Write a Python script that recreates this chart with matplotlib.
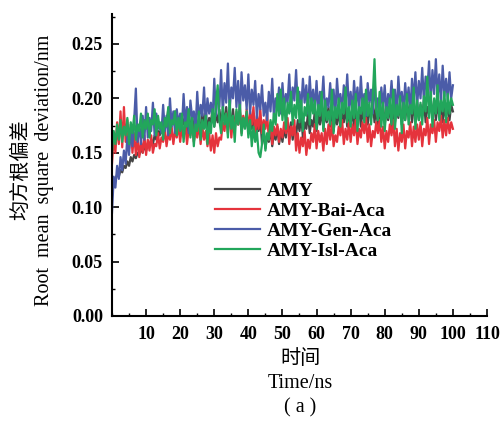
import numpy as np
import matplotlib
matplotlib.use("Agg")
import matplotlib.pyplot as plt
from matplotlib.ticker import MultipleLocator, FormatStrFormatter

plt.rcParams['font.family'] = ['Liberation Serif', 'DejaVu Serif']

# time axis, 0.5 ns steps
time_ns = np.arange(0, 100.5, 0.5)

# RMSD values, in units of 1e-3 nm
amy = [
    110, 122, 126, 130, 128, 134, 132, 138, 136, 142, 138, 146, 142, 148, 145, 150, 148, 154, 150, 156,
    152, 158, 156, 162, 158, 166, 162, 170, 166, 176, 170, 182, 176, 190, 172, 184, 178, 188, 174, 182,
    172, 182, 176, 186, 170, 180, 174, 184, 172, 182, 168, 178, 174, 186, 176, 188, 170, 182, 178, 190,
    174, 186, 178, 190, 176, 188, 180, 192, 174, 186, 178, 190, 172, 184, 176, 188, 170, 182, 174, 186,
    168, 180, 172, 184, 166, 178, 170, 182, 158, 170, 154, 166, 160, 172, 156, 168, 162, 174, 158, 170,
    160, 172, 164, 176, 168, 178, 162, 174, 166, 180, 170, 184, 164, 178, 172, 186, 168, 180, 174, 188,
    170, 184, 176, 190, 172, 186, 178, 192, 174, 188, 170, 184, 176, 190, 172, 186, 178, 192, 174, 188,
    176, 190, 172, 186, 178, 192, 174, 188, 180, 196, 176, 190, 182, 198, 178, 192, 174, 188, 180, 194,
    176, 190, 180, 194, 174, 188, 178, 192, 182, 196, 176, 190, 180, 194, 184, 198, 178, 192, 182, 196,
    180, 194, 184, 198, 178, 192, 186, 200, 182, 196, 180, 194, 184, 198, 178, 192, 182, 196, 180, 194,
    188]

bai = [
    140, 165, 150, 178, 158, 188, 155, 192, 160, 180, 154, 176, 150, 168, 148, 164, 146, 160, 150, 166,
    148, 162, 152, 166, 150, 158, 156, 168, 154, 164, 160, 172, 156, 168, 162, 174, 158, 170, 164, 176,
    160, 174, 164, 178, 158, 172, 166, 176, 160, 170, 164, 178, 158, 174, 162, 170, 156, 168, 152, 166,
    150, 168, 156, 164, 162, 178, 170, 186, 168, 190, 164, 182, 172, 188, 176, 192, 168, 184, 174, 190,
    170, 188, 176, 192, 166, 184, 172, 190, 168, 180, 172, 186, 162, 178, 158, 174, 166, 176, 160, 172,
    164, 178, 168, 182, 158, 174, 166, 180, 152, 168, 150, 164, 156, 170, 148, 162, 154, 168, 160, 176,
    154, 170, 160, 168, 152, 172, 158, 176, 162, 178, 156, 166, 160, 174, 166, 180, 158, 172, 162, 178,
    160, 176, 166, 180, 158, 172, 164, 178, 168, 182, 160, 176, 156, 170, 164, 178, 168, 180, 160, 174,
    154, 170, 160, 176, 166, 180, 156, 172, 152, 168, 160, 176, 154, 170, 164, 178, 156, 174, 160, 176,
    162, 178, 156, 172, 166, 182, 158, 176, 168, 180, 160, 178, 170, 184, 164, 180, 166, 182, 168, 178,
    172]

gen = [
    95, 128, 118, 138, 126, 146, 134, 152, 140, 165, 148, 172, 156, 180, 209, 160, 176, 158, 184, 162,
    192, 164, 182, 170, 196, 166, 186, 172, 178, 168, 194, 170, 184, 166, 200, 174, 188, 168, 190, 176,
    186, 172, 204, 176, 192, 168, 198, 182, 188, 170, 206, 178, 194, 184, 210, 176, 200, 186, 196, 180,
    218, 184, 206, 192, 226, 186, 214, 196, 232, 188, 210, 200, 228, 192, 216, 184, 224, 198, 212, 190,
    222, 186, 208, 194, 216, 182, 204, 190, 212, 184, 196, 180, 206, 188, 218, 182, 200, 192, 210, 186,
    214, 190, 204, 196, 222, 188, 210, 198, 226, 192, 206, 190, 218, 196, 212, 186, 220, 194, 208, 190,
    216, 188, 206, 194, 220, 186, 200, 192, 214, 190, 208, 184, 218, 196, 204, 188, 212, 194, 222, 190,
    206, 186, 216, 194, 210, 188, 220, 192, 204, 184, 214, 196, 208, 186, 218, 190, 200, 184, 210, 192,
    212, 186, 204, 194, 216, 190, 208, 184, 220, 196, 206, 188, 214, 194, 210, 186, 218, 198, 224, 192,
    216, 200, 228, 196, 220, 206, 234, 198, 226, 204, 236, 200, 222, 196, 230, 202, 218, 198, 224, 200,
    212]

isl = [
    150, 170, 158, 176, 162, 180, 160, 174, 166, 182, 158, 178, 168, 184, 162, 176, 170, 186, 164, 180,
    172, 186, 164, 180, 176, 190, 166, 184, 172, 178, 162, 182, 174, 192, 168, 180, 176, 188, 166, 182,
    170, 186, 160, 178, 174, 190, 164, 182, 156, 176, 170, 188, 162, 180, 172, 184, 158, 178, 168, 190,
    174, 196, 212, 180, 168, 192, 176, 186, 164, 198, 172, 184, 160, 190, 176, 194, 166, 182, 172, 188,
    164, 180, 156, 174, 160, 170, 150, 146, 158, 176, 152, 168, 162, 180, 170, 186, 176, 204, 184, 208,
    180, 200, 172, 196, 186, 206, 176, 194, 182, 210, 178, 198, 170, 192, 184, 204, 176, 200, 186, 198,
    172, 194, 184, 206, 170, 198, 180, 188, 176, 208, 168, 192, 182, 200, 174, 196, 186, 210, 178, 192,
    174, 198, 182, 204, 170, 192, 186, 200, 178, 208, 184, 196, 176, 202, 236, 188, 180, 206, 174, 196,
    170, 192, 182, 200, 176, 208, 172, 194, 184, 202, 168, 196, 180, 204, 176, 194, 186, 210, 172, 198,
    180, 196, 176, 202, 188, 220, 182, 206, 174, 200, 186, 212, 180, 198, 188, 206, 178, 204, 186, 200,
    194]

labels = ['AMY', 'AMY-Bai-Aca', 'AMY-Gen-Aca', 'AMY-Isl-Aca']
colors = ['#454545', '#e5333c', '#4b5ca8', '#22a65b']
series = [amy, bai, gen, isl]

fig = plt.figure(figsize=(5.02, 4.21), dpi=100)
ax = fig.add_axes([112 / 502, 1 - 316 / 421, 375 / 502, 302 / 421])

for vals, lab, col in zip(series, labels, colors):
    ax.plot(time_ns, np.array(vals) / 1000.0, color=col, lw=1.6, label=lab)

ax.set_xlim(0, 110)
ax.set_ylim(0, 0.2775)
ax.set_xticks(np.arange(10, 111, 10))
ax.xaxis.set_minor_locator(MultipleLocator(5))
ax.set_yticks(np.arange(0, 0.26, 0.05))
ax.yaxis.set_minor_locator(MultipleLocator(0.025))
ax.yaxis.set_major_formatter(FormatStrFormatter('%.2f'))

for s in ['top', 'right']:
    ax.spines[s].set_visible(False)
for s in ['left', 'bottom']:
    ax.spines[s].set_linewidth(1.5)

ax.tick_params(which='major', direction='in', length=5, width=1.2)
ax.tick_params(which='minor', direction='in', length=2.5, width=1.0)
ax.tick_params(axis='y', which='major', pad=6.5)
ax.tick_params(axis='x', which='major', pad=7)
for t in ax.get_xticklabels() + ax.get_yticklabels():
    t.set_fontsize(13)
    t.set_fontweight('bold')

leg = ax.legend(loc='center left', bbox_to_anchor=(215 / 502, 1 - 221 / 421),
                bbox_transform=fig.transFigure, frameon=False, borderpad=0,
                borderaxespad=0, handlelength=2.3, handletextpad=0.35,
                labelspacing=0.12, prop={'weight': 'bold', 'size': 14})
for line in leg.get_lines():
    line.set_linewidth(1.6)

cjk = ['Noto Sans CJK SC', 'DejaVu Sans']
fig.text(21 / 502, 1 - 170 / 421, '均方根偏差', rotation=90, ha='center', va='center',
         family=cjk, fontsize=14.5)
fig.text(45 / 502, 1 - 170 / 421, 'Root  mean  square  deviation/nm', rotation=90,
         ha='center', va='center', fontsize=14.5)
fig.text(300 / 502, 1 - 358 / 421, '时间', ha='center', va='center', family=cjk, fontsize=14.5)
fig.text(300 / 502, 1 - 384 / 421, 'Time/ns', ha='center', va='center', fontsize=14.5)
fig.text(300 / 502, 1 - 408 / 421, '( a )', ha='center', va='center', fontsize=14.5)

fig.savefig('out.png', dpi=100)
